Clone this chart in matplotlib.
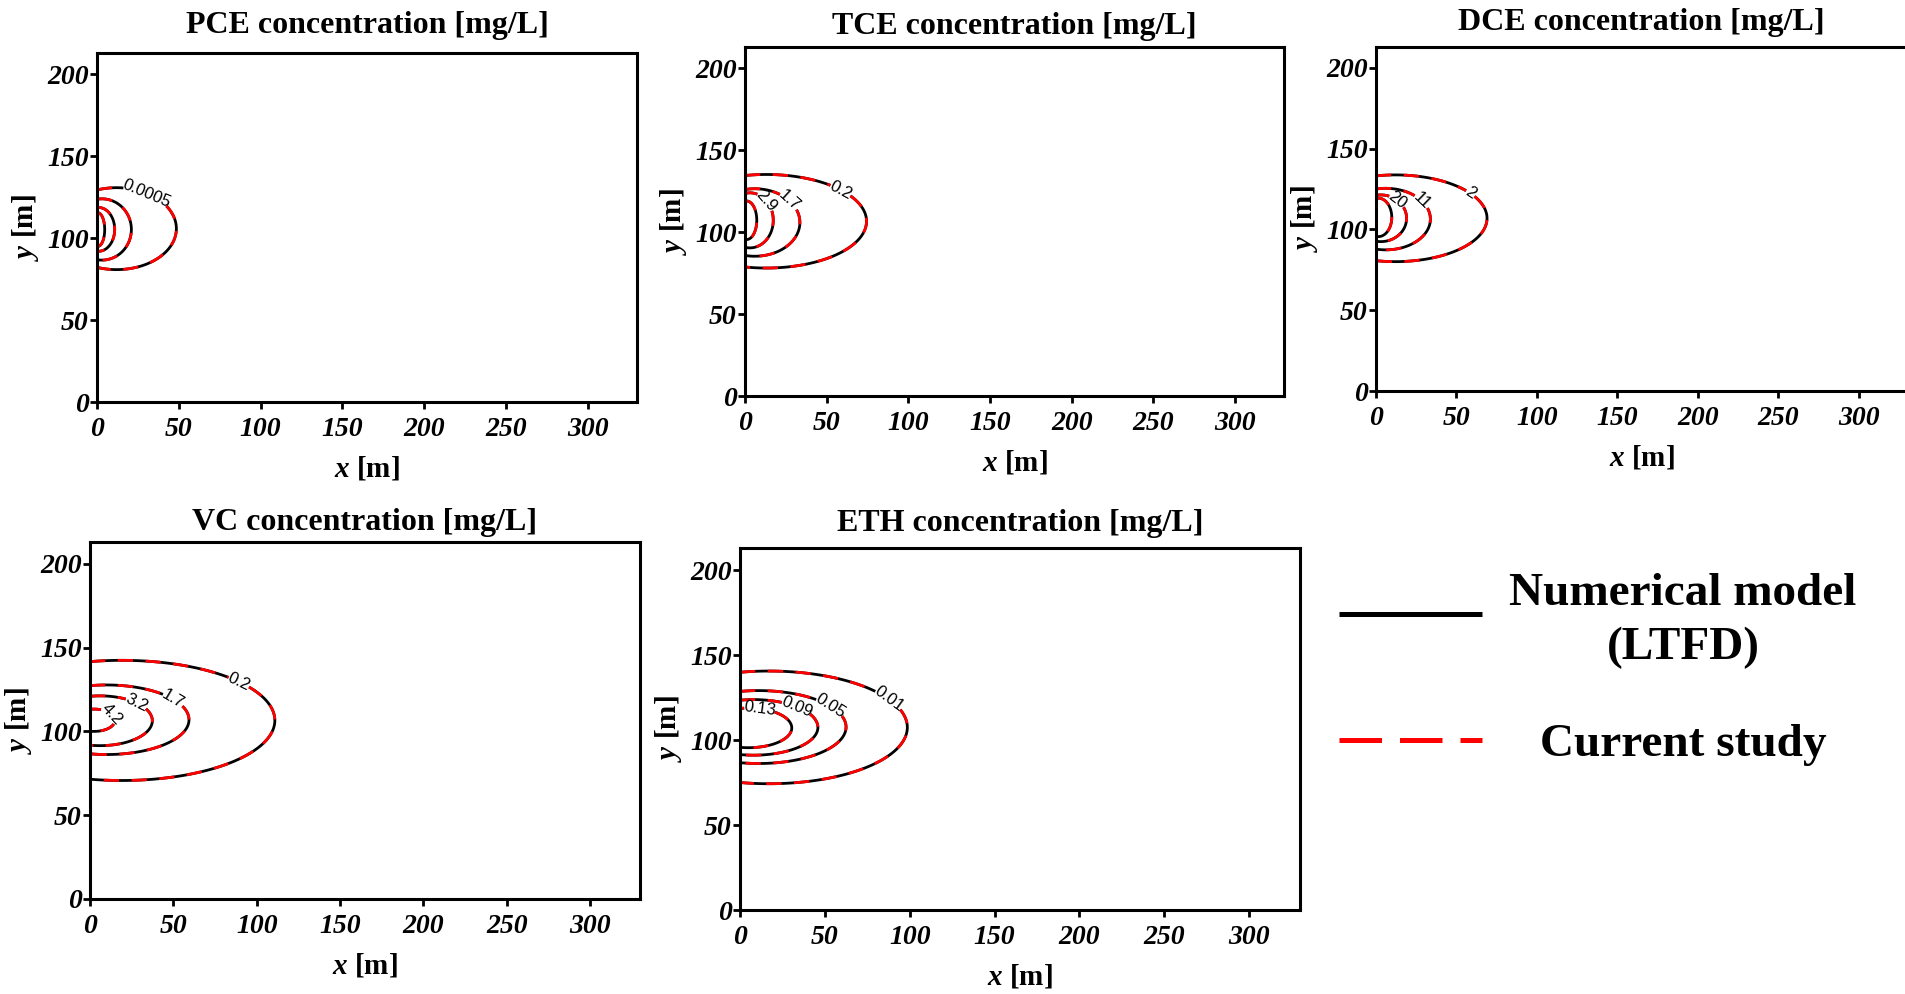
import numpy as np
import matplotlib.pyplot as plt

plt.rcParams['font.family'] = 'Liberation Serif'
plt.rcParams['mathtext.fontset'] = 'custom'
plt.rcParams['mathtext.rm'] = 'Liberation Serif:bold'
plt.rcParams['mathtext.bf'] = 'Liberation Serif:bold'
plt.rcParams['mathtext.it'] = 'Liberation Serif:bold:italic'
plt.rcParams['mathtext.bfit'] = 'Liberation Serif:bold:italic'

# ---- data (contours listed outer -> inner) ----
species = ['PCE', 'TCE', 'DCE', 'VC', 'ETH']

pce_labels = ['0.0005', '', '', '']
pce_top = [130.8, 124.0, 118.7, 115.5]
pce_bottom = [80.8, 86.6, 92.0, 95.0]
pce_reach = [48.5, 21.0, 10.8, 4.7]
pce_xc = [12.0, 3.0, 1.0, 0.5]

tce_labels = ['0.2', '1.7', '2.9', '']
tce_top = [135.2, 126.5, 124.0, 119.0]
tce_bottom = [78.1, 85.3, 90.4, 95.5]
tce_reach = [74.4, 33.6, 17.3, 7.2]
tce_xc = [13.0, 6.0, 3.0, 1.0]

dce_labels = ['2', '11', '20', '']
dce_top = [133.8, 125.5, 121.4, 119.4]
dce_bottom = [80.1, 87.4, 92.5, 95.6]
dce_reach = [69.0, 33.8, 19.0, 9.8]
dce_xc = [12.0, 6.0, 3.0, 1.5]

vc_labels = ['0.2', '1.7', '3.2', '4.2']
vc_top = [142.4, 127.7, 121.2, 113.3]
vc_bottom = [70.7, 86.2, 91.5, 100.0]
vc_reach = [110.9, 59.4, 37.4, 15.0]
vc_xc = [19.0, 10.0, 6.0, 2.5]

eth_labels = ['0.01', '0.05', '0.09', '0.13']
eth_top = [140.6, 129.1, 123.8, 118.8]
eth_bottom = [74.3, 86.2, 91.1, 95.5]
eth_reach = [98.6, 62.5, 45.9, 30.5]
eth_xc = [17.0, 11.0, 8.0, 5.0]

x_ticks = [0, 50, 100, 150, 200, 250, 300]
y_ticks = [0, 50, 100, 150, 200]

# ---- layout (pixels: left, top, right, bottom) ----
W, H = 1905, 994
boxes = {'PCE': (97, 53, 637, 402), 'TCE': (745, 47, 1284, 396),
         'DCE': (1376, 47, 1907, 391), 'VC': (90, 542, 640, 899),
         'ETH': (740, 548, 1300, 910)}
title_pad = {'PCE': 14.5, 'TCE': 9, 'DCE': 12.5, 'VC': 8.5, 'ETH': 12.5}
label_ang = {'PCE': [60, 0, 0, 0], 'TCE': [42, 40, 45, 0], 'DCE': [35, 36, 50, 0],
             'VC': [40, 36, 46, 34], 'ETH': [30, 35, 48, 75]}

data = {'PCE': (pce_labels, pce_top, pce_bottom, pce_reach, pce_xc),
        'TCE': (tce_labels, tce_top, tce_bottom, tce_reach, tce_xc),
        'DCE': (dce_labels, dce_top, dce_bottom, dce_reach, dce_xc),
        'VC': (vc_labels, vc_top, vc_bottom, vc_reach, vc_xc),
        'ETH': (eth_labels, eth_top, eth_bottom, eth_reach, eth_xc)}

X, Y = np.meshgrid(np.linspace(0, 330, 1321), np.linspace(0, 213, 853))

fig = plt.figure(figsize=(W / 100, H / 100), dpi=100)

for name in species:
    l, t, r, b = boxes[name]
    ax = fig.add_axes([l / W, 1 - b / H, (r - l) / W, (b - t) / H])
    labels, top, bottom, reach, xc = data[name]
    for i in range(len(top)):
        yc = (top[i] + bottom[i]) / 2
        bb = (top[i] - bottom[i]) / 2
        aa = reach[i] - xc[i]
        rr = np.hypot((X - xc[i]) / aa, (Y - yc) / bb)
        cs_n = ax.contour(X, Y, rr, levels=[1.0], colors='black', linewidths=2.0)
        cs_c = ax.contour(X, Y, rr, levels=[1.0], colors='red', linewidths=2.0)
        cs_c.set_linestyle((0, (5.5, 4.5)))
        if labels[i]:
            th = np.radians(label_ang[name][i])
            pos = [(xc[i] + aa * np.cos(th), yc + bb * np.sin(th))]
            txt = ax.clabel(cs_n, fmt={1.0: labels[i]}, manual=pos, inline=True,
                            fontsize=12, inline_spacing=1)
            for tt in txt:
                tt.set_family('Liberation Sans')
            hid = ax.clabel(cs_c, fmt={1.0: labels[i]}, manual=pos, inline=True,
                            fontsize=12, inline_spacing=1)
            for tt in hid:
                tt.set_visible(False)

    ax.set_xlim(0, 330)
    ax.set_ylim(0, 213)
    ax.set_xticks(x_ticks)
    ax.set_yticks(y_ticks)
    ax.set_xticklabels([str(v) for v in x_ticks], fontsize=20, fontweight='bold', style='italic')
    ax.set_yticklabels([str(v) for v in y_ticks], fontsize=20, fontweight='bold', style='italic')
    ax.tick_params(axis='x', direction='out', length=5, width=2, pad=6)
    ax.tick_params(axis='y', direction='out', length=5, width=2, pad=1)
    for s in ax.spines.values():
        s.set_linewidth(2.2)
    ax.set_title(name + ' concentration [mg/L]', fontsize=23, fontweight='bold',
                 pad=title_pad[name])
    ax.set_xlabel(r'$x$ [m]', fontsize=21, fontweight='bold', labelpad=9)
    ax.set_ylabel(r'$y$ [m]', fontsize=21, fontweight='bold', labelpad=4)

# legend drawn by hand to match the layout
lax = fig.add_axes([0, 0, 1, 1])
lax.set_axis_off()
lax.patch.set_alpha(0)
lax.set_xlim(0, W)
lax.set_ylim(H, 0)
lax.plot([1339, 1482], [614, 614], color='black', lw=3.6, solid_capstyle='butt')
lax.plot([1339, 1482], [740, 740], color='red', lw=3.6, linestyle=(0, (8.5, 3.6)),
         dash_capstyle='butt')
lax.text(1683, 621, 'Numerical model\n(LTFD)', ha='center', va='center', fontsize=34,
         fontweight='bold', linespacing=1.35)
lax.text(1683, 745, 'Current study', ha='center', va='center', fontsize=34,
         fontweight='bold')

fig.savefig('out.png', dpi=100)
